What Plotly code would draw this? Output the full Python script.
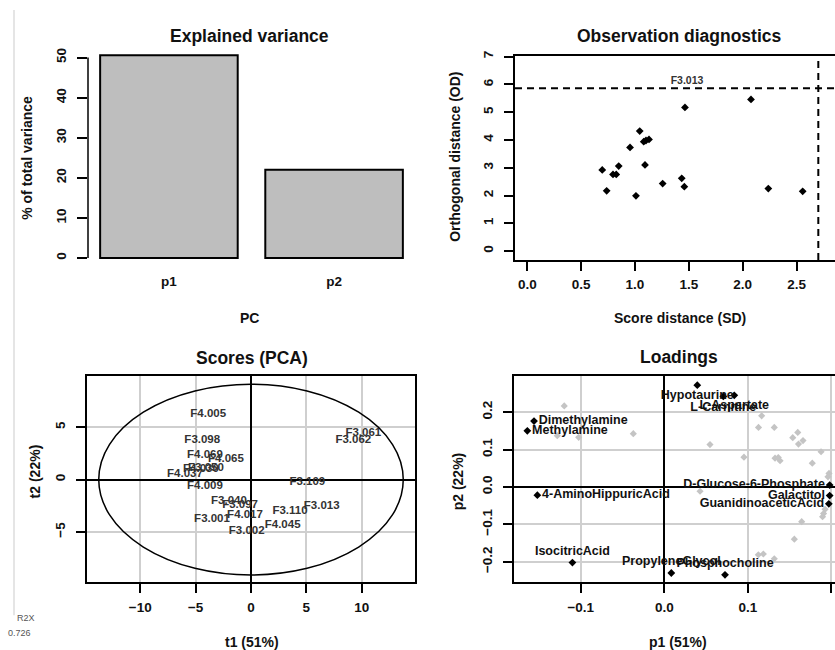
import plotly.graph_objects as go

W, H = 835, 650
FONT = "Liberation Sans"

# ---------------- data ----------------
pc_names = ["p1", "p2"]
pc_variance = [50.6, 22.0]

diag_sd = [0.696, 0.737, 0.796, 0.826, 0.849, 0.954, 1.009, 1.044, 1.081, 1.102,
           1.130, 1.093, 1.257, 1.434, 1.458, 1.464, 2.077, 2.238, 2.557]
diag_od = [2.92, 2.17, 2.76, 2.76, 3.06, 3.73, 1.99, 4.32, 3.94, 3.98,
           4.02, 3.10, 2.43, 2.62, 2.32, 5.17, 5.46, 2.25, 2.15]
sd_limit = 2.702
od_limit = 5.86
outlier_label = "F3.013"
outlier_label_pos = (1.483, 6.11)

score_names = ["F4.005", "F3.098", "F4.069", "F4.065", "F4.030", "F3.050", "F4.037",
               "F4.009", "F3.109", "F3.040", "F3.097", "F3.110", "F3.013", "F3.001",
               "F4.017", "F4.045", "F3.002", "F3.061", "F3.062"]
score_t1 = [-3.86, -4.40, -4.16, -2.26, -4.52, -4.07, -5.96, -4.16, 5.09, -1.99,
            -0.99, 3.52, 6.39, -3.52, -0.54, 2.86, -0.39, 10.14, 9.24]
score_t2 = [6.21, 3.75, 2.37, 1.99, 1.02, 1.10, 0.57, -0.63, -0.23, -2.05,
            -2.43, -2.97, -2.50, -3.73, -3.41, -4.36, -4.92, 4.48, 3.75]
ellipse_t1_semi = 13.75
ellipse_t2_semi = 9.1

load_names = ["Hypotaurine", "L-Carnitine", "L-Aspartate", "Dimethylamine", "Methylamine",
              "4-AminoHippuricAcid", "IsocitricAcid", "PropyleneGlycol", "Phosphocholine",
              "D-Glucose-6-Phosphate", "Galactitol", "GuanidinoaceticAcid"]
load_p1 = [0.0395, 0.0707, 0.0838, -0.156, -0.164, -0.152, -0.110, 0.0084, 0.0727,
           0.198, 0.198, 0.197]
load_p2 = [0.272, 0.242, 0.245, 0.176, 0.150, -0.022, -0.202, -0.230, -0.235,
           0.005, -0.023, -0.045]
load_textpos = ["bottom center"] * 3 + ["middle right"] * 3 + ["top center"] * 3 + ["middle left"] * 3

other_p1 = [-0.1198, -0.1281, -0.1025, -0.0371, 0.1166, 0.1128, 0.1317, 0.0547, 0.1598,
            0.1538, 0.1661, 0.1607, 0.0954, 0.1326, 0.1365, 0.1386, 0.1772, 0.1877,
            0.1972, 0.1960, 0.0428, 0.1925, 0.1907, 0.1895, 0.1645, 0.1557, 0.1126,
            0.1186, 0.1317]
other_p2 = [0.2167, 0.1371, 0.1326, 0.1424, 0.1902, 0.1592, 0.1592, 0.1133, 0.1459,
            0.1318, 0.1239, 0.1146, 0.0796, 0.0769, 0.0788, 0.0700, 0.0637, 0.0942,
            0.0363, 0.0271, -0.0114, -0.0599, -0.0711, -0.0796, -0.0928, -0.1395,
            -0.1812, -0.1793, -0.1918]

r2x_value = 0.726

# ---------------- helpers ----------------
def px_x(p):
    return p / W

def px_y(p):
    return 1 - p / H

tickfont = dict(family=FONT, size=13.5, color="#111", weight="bold")

fig = go.Figure()

# Explained variance bars
fig.add_trace(go.Bar(x=pc_names, y=pc_variance, width=0.833,
                     marker=dict(color="#bebebe", line=dict(color="black", width=2)),
                     xaxis="x", yaxis="y", showlegend=False))

# Observation diagnostics
fig.add_trace(go.Scatter(x=diag_sd, y=diag_od, mode="markers",
                         marker=dict(symbol="diamond", size=6, color="black"),
                         xaxis="x2", yaxis="y2", showlegend=False))
fig.add_trace(go.Scatter(x=[outlier_label_pos[0]], y=[outlier_label_pos[1]], mode="text",
                         text=[outlier_label],
                         textfont=dict(family=FONT, size=10.5, color="#333", weight="bold"),
                         xaxis="x2", yaxis="y2", showlegend=False))

# Scores
fig.add_trace(go.Scatter(x=score_t1, y=score_t2, mode="text", text=score_names,
                         textfont=dict(family=FONT, size=11.5, color="#333", weight="bold"),
                         xaxis="x3", yaxis="y3", showlegend=False))

# Loadings
fig.add_trace(go.Scatter(x=other_p1, y=other_p2, mode="markers",
                         marker=dict(symbol="diamond", size=5.5, color="#c4c4c4"),
                         xaxis="x4", yaxis="y4", showlegend=False))
fig.add_trace(go.Scatter(x=load_p1, y=load_p2, mode="markers+text", text=load_names,
                         textposition=load_textpos,
                         textfont=dict(family=FONT, size=12.5, color="#111", weight="bold"),
                         marker=dict(symbol="diamond", size=6, color="black"),
                         xaxis="x4", yaxis="y4", showlegend=False, cliponaxis=False))

common_tick = dict(ticks="outside", ticklen=9, tickwidth=1.5, tickcolor="black",
                   tickfont=tickfont)

layout = dict(
    width=W, height=H, margin=dict(l=0, r=0, t=0, b=0),
    paper_bgcolor="white", plot_bgcolor="white",
    font=dict(family=FONT),
    showlegend=False,
    # bar chart
    xaxis=dict(domain=[px_x(88), px_x(415)], type="category", range=[-0.49, 1.49],
               showline=False, ticks="", showgrid=False, zeroline=False,
               tickfont=tickfont, ticklabelstandoff=6),
    yaxis=dict(domain=[px_y(263), px_y(42)], range=[-1.98, 52.72],
               tickvals=[0, 10, 20, 30, 40, 50], tickangle=-90, ticklen=10,
               ticks="outside", tickwidth=1.5, tickcolor="black", tickfont=tickfont,
               showline=False, showgrid=False, zeroline=False, ticklabelstandoff=6),
    # diagnostics
    xaxis2=dict(domain=[px_x(515), 1.0], range=[-0.114, 2.857], anchor="y2",
                tickvals=[0, 0.5, 1.0, 1.5, 2.0, 2.5], tickformat=".1f",
                showline=True, mirror=True, linecolor="black", linewidth=2,
                showgrid=False, zeroline=False, ticklabelstandoff=2, **common_tick),
    yaxis2=dict(domain=[px_y(257), px_y(51)], range=[-0.321, 7.036], anchor="x2",
                tickvals=list(range(8)), tickangle=-90,
                showline=True, mirror=False, linecolor="black", linewidth=2,
                showgrid=False, zeroline=False, ticklabelstandoff=6, **common_tick),
    # scores
    xaxis3=dict(domain=[px_x(87), px_x(415)], range=[-14.81, 14.81], anchor="y3",
                tickvals=[-10, -5, 0, 5, 10],
                showline=True, mirror=True, linecolor="black", linewidth=2,
                showgrid=True, gridcolor="#cfcfcf", gridwidth=1.5,
                zeroline=True, zerolinecolor="black", zerolinewidth=1.5,
                ticklabelstandoff=3, **common_tick),
    yaxis3=dict(domain=[px_y(581), px_y(374)], range=[-9.73, 9.88], anchor="x3",
                tickvals=[-5, 0, 5], tickangle=-90,
                showline=True, mirror=True, linecolor="black", linewidth=2,
                showgrid=True, gridcolor="#cfcfcf", gridwidth=1.5,
                zeroline=True, zerolinecolor="black", zerolinewidth=1.5,
                ticklabelstandoff=6, **common_tick),
    # loadings
    xaxis4=dict(domain=[px_x(514.3), 1.0], range=[-0.1796, 0.2044], anchor="y4",
                tickvals=[-0.1, 0.0, 0.1, 0.2], tickformat=".1f",
                showline=True, mirror=True, linecolor="black", linewidth=2,
                showgrid=True, gridcolor="#cfcfcf", gridwidth=1.5,
                zeroline=True, zerolinecolor="black", zerolinewidth=1.5,
                ticklabelstandoff=3, **common_tick),
    yaxis4=dict(domain=[px_y(581), px_y(374.3)], range=[-0.2528, 0.2955], anchor="x4",
                tickvals=[-0.2, -0.1, 0.0, 0.1, 0.2], tickformat=".1f", tickangle=-90,
                showline=True, mirror=False, linecolor="black", linewidth=2,
                showgrid=True, gridcolor="#cfcfcf", gridwidth=1.5,
                zeroline=True, zerolinecolor="black", zerolinewidth=1.5,
                ticklabelstandoff=6, **common_tick),
)
fig.update_layout(**layout)

shapes = [
    # bar chart y axis line (0..50 only)
    dict(type="line", xref="paper", yref="y", x0=px_x(88), x1=px_x(88), y0=0, y1=50,
         line=dict(color="black", width=1.5)),
    # diagnostics thresholds
    dict(type="line", xref="x2 domain", yref="y2", x0=0, x1=1, y0=od_limit, y1=od_limit,
         line=dict(color="black", width=2, dash="7px,5px")),
    dict(type="line", xref="x2", yref="y2 domain", x0=sd_limit, x1=sd_limit, y0=0, y1=1,
         line=dict(color="black", width=2, dash="7px,5px")),
    # scores ellipse
    dict(type="circle", xref="x3", yref="y3", x0=-ellipse_t1_semi, x1=ellipse_t1_semi,
         y0=-ellipse_t2_semi, y1=ellipse_t2_semi, line=dict(color="black", width=1.5)),
    # faint page border line on the left
    dict(type="line", xref="paper", yref="paper", x0=px_x(14), x1=px_x(14),
         y0=px_y(615), y1=px_y(5), line=dict(color="#dddddd", width=1.5)),
]
fig.update_layout(shapes=shapes)

def ann(text, x, y, size=14, angle=0, bold=True, color="#111"):
    return dict(text=text, x=px_x(x), y=px_y(y), xref="paper", yref="paper",
                xanchor="center", yanchor="middle", showarrow=False, textangle=angle,
                font=dict(family=FONT, size=size, color=color,
                          weight="bold" if bold else "normal"))

annotations = [
    ann("Explained variance", 250, 31, size=17.5),
    ann("Observation diagnostics", 679, 31, size=17.5),
    ann("Scores (PCA)", 252, 356, size=17.5),
    ann("Loadings", 679, 355, size=17.5),
    ann("PC", 250, 315),
    ann("% of total variance", 27, 154, angle=-90),
    ann("Score distance (SD)", 680, 315),
    ann("Orthogonal distance (OD)", 455, 153, angle=-90),
    ann("t1 (51%)", 252, 642),
    ann("t2 (22%)", 35, 470, angle=-90),
    ann("p1 (51%)", 678, 642),
    ann("p2 (22%)", 458, 480, angle=-90),
    ann("R2X", 26, 618, size=9, bold=False, color="#555"),
    ann(f"{r2x_value:.3f}", 19, 633, size=9, bold=False, color="#555"),
]
fig.update_layout(annotations=annotations)

fig.write_html("out.html")
